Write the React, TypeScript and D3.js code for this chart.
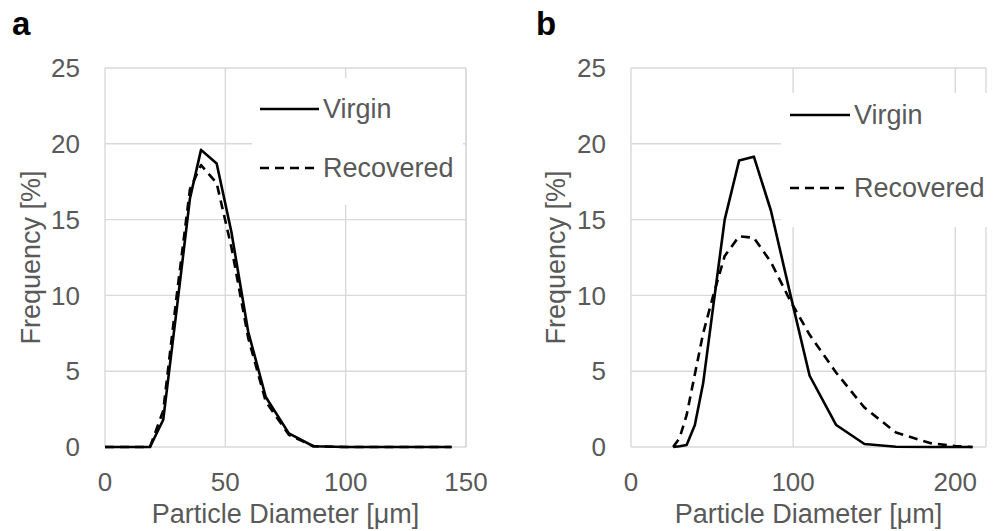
import React from "react";
import * as d3 from "d3";

// ---- Data ----
const aDiameter = [0, 5, 10, 15, 18.7, 24.2, 29.8, 35.3, 39.9, 46.4, 52.5, 59.5, 66.8, 76.4, 86.6, 100, 115, 130, 144];
const aVirgin = [0, 0, 0, 0, 0, 1.8, 9.1, 16.4, 19.6, 18.7, 14.2, 7.6, 3.3, 0.9, 0.05, 0, 0, 0, 0];
const aRecovered = [0, 0, 0, 0, 0, 2.4, 10.0, 17.0, 18.6, 17.4, 13.2, 7.2, 3.0, 0.8, 0.05, 0, 0, 0, 0];

const bDiameter = [26, 30, 34.3, 39.4, 44.5, 50.5, 57.8, 66.7, 75.8, 86.3, 98, 110.2, 126.6, 144, 163.5, 185, 200, 210.7];
const bVirgin = [0, 0.05, 0.13, 1.45, 4.2, 9.1, 15.0, 18.9, 19.15, 15.6, 10.2, 4.7, 1.45, 0.2, 0.02, 0, 0, 0];
const bRecovered = [0, 0.6, 2.1, 4.8, 7.5, 9.9, 12.6, 13.9, 13.8, 12.2, 9.7, 7.4, 4.9, 2.6, 0.95, 0.25, 0.06, 0];

const yTicks = [0, 5, 10, 15, 20, 25];
const aXTicks = [0, 50, 100, 150];
const bXTicks = [0, 100, 200];
const seriesNames = ["Virgin", "Recovered"];
const panelLabels = ["a", "b"];
const yTitle = "Frequency [%]";
const xTitle = "Particle Diameter [μm]";

const FONT = "'Liberation Sans', Arial, Helvetica, sans-serif";
const GRID = "#d9d9d9";
const TEXT = "#595959";

type PanelProps = {
  label: string;
  x: number[];
  virgin: number[];
  recovered: number[];
  xDomain: [number, number];
  xTicks: number[];
  plot: { left: number; right: number; top: number; bottom: number };
  labelX: number;
  yTitleX: number;
  legend: { boxX0: number; boxX1: number; boxY0: number; boxY1: number; lineX0: number; lineX1: number; y1: number; y2: number };
};

function Panel(p: PanelProps) {
  const xs = d3.scaleLinear().domain(p.xDomain).range([p.plot.left, p.plot.right]);
  const ys = d3.scaleLinear().domain([0, 25]).range([p.plot.bottom, p.plot.top]);
  const line = d3
    .line<number>()
    .x((_, i) => xs(p.x[i]))
    .y((d) => ys(d));
  const cx = (p.plot.left + p.plot.right) / 2;
  const cy = (p.plot.top + p.plot.bottom) / 2;
  return (
    <g>
      {/* gridlines */}
      {yTicks.map((t) => (
        <line key={"h" + t} x1={p.plot.left} x2={p.plot.right} y1={ys(t)} y2={ys(t)} stroke={GRID} strokeWidth={1.4} />
      ))}
      {p.xTicks.map((t) => (
        <line key={"v" + t} x1={xs(t)} x2={xs(t)} y1={p.plot.top} y2={p.plot.bottom} stroke={GRID} strokeWidth={1.4} />
      ))}
      <line x1={p.plot.right} x2={p.plot.right} y1={p.plot.top} y2={p.plot.bottom} stroke={GRID} strokeWidth={1.4} />
      {/* tick labels */}
      {yTicks.map((t) => (
        <text key={"yl" + t} x={p.plot.left - 25} y={ys(t)} dy="0.35em" textAnchor="end" fontSize={26} fill={TEXT} fontFamily={FONT}>
          {t}
        </text>
      ))}
      {p.xTicks.map((t) => (
        <text key={"xl" + t} x={xs(t)} y={491} textAnchor="middle" fontSize={26} fill={TEXT} fontFamily={FONT}>
          {t}
        </text>
      ))}
      {/* axis titles */}
      <text x={cx} y={523} textAnchor="middle" fontSize={27} fill={TEXT} fontFamily={FONT}>
        {xTitle}
      </text>
      <text
        transform={`translate(${p.yTitleX},${cy}) rotate(-90)`}
        textAnchor="middle"
        dy="0.35em"
        fontSize={27}
        fill={TEXT}
        fontFamily={FONT}
      >
        {yTitle}
      </text>
      {/* series */}
      <path d={line(p.recovered) || ""} fill="none" stroke="#000" strokeWidth={2.6} strokeDasharray="9,6" strokeLinejoin="round" />
      <path d={line(p.virgin) || ""} fill="none" stroke="#000" strokeWidth={2.6} strokeLinejoin="round" />
      {/* legend */}
      <rect x={p.legend.boxX0} y={p.legend.boxY0} width={p.legend.boxX1 - p.legend.boxX0} height={p.legend.boxY1 - p.legend.boxY0} fill="#fff" />
      <line x1={p.legend.lineX0} x2={p.legend.lineX1} y1={p.legend.y1} y2={p.legend.y1} stroke="#000" strokeWidth={2.6} />
      <text x={p.legend.lineX1 + 4} y={p.legend.y1} dy="0.35em" fontSize={27} fill={TEXT} fontFamily={FONT}>
        {seriesNames[0]}
      </text>
      <line x1={p.legend.lineX0} x2={p.legend.lineX1} y1={p.legend.y2} y2={p.legend.y2} stroke="#000" strokeWidth={2.6} strokeDasharray="9,6" />
      <text x={p.legend.lineX1 + 4} y={p.legend.y2} dy="0.35em" fontSize={27} fill={TEXT} fontFamily={FONT}>
        {seriesNames[1]}
      </text>
      {/* panel label */}
      <text x={p.labelX} y={35} fontSize={33} fontWeight="bold" fill="#000" fontFamily={FONT}>
        {p.label}
      </text>
    </g>
  );
}

export default function App() {
  return (
    <svg width={997} height={531} style={{ position: "absolute", left: 0, top: 0, background: "#fff" }}>
      <rect x={0} y={0} width={997} height={531} fill="#fff" />
      <Panel
        label={panelLabels[0]}
        x={aDiameter}
        virgin={aVirgin}
        recovered={aRecovered}
        xDomain={[0, 150]}
        xTicks={aXTicks}
        plot={{ left: 105, right: 466, top: 68, bottom: 447 }}
        labelX={12}
        yTitleX={31}
        legend={{ boxX0: 252, boxX1: 463, boxY0: 78, boxY1: 205, lineX0: 260, lineX1: 319, y1: 109, y2: 168 }}
      />
      <Panel
        label={panelLabels[1]}
        x={bDiameter}
        virgin={bVirgin}
        recovered={bRecovered}
        xDomain={[0, 219]}
        xTicks={bXTicks}
        plot={{ left: 631, right: 986, top: 68, bottom: 447 }}
        labelX={536}
        yTitleX={556}
        legend={{ boxX0: 781, boxX1: 992, boxY0: 93, boxY1: 227, lineX0: 790, lineX1: 850, y1: 115, y2: 188 }}
      />
    </svg>
  );
}
